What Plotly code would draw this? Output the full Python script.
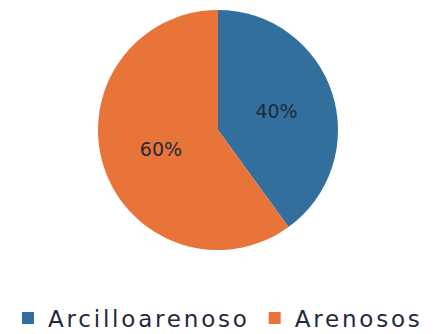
import plotly.graph_objects as go

labels = ["Arcilloarenoso", "Arenosos"]
values = [40, 60]
colors = ["#336F9C", "#E8743A"]

W, H = 438, 334
cx, cy, r = 210, 122, 120
spacing = 2.8      # letter spacing of legend text (px)

legend_labels = [f"<span style='letter-spacing:{spacing}px'>{t}</span>" for t in labels]

fig = go.Figure(go.Pie(
    labels=legend_labels, values=values, sort=False, direction="clockwise", rotation=0,
    marker=dict(colors=colors, line=dict(width=0)),
    textinfo="percent", textposition="inside", insidetextorientation="horizontal",
    textfont=dict(size=19, color="#1F2A3C", family="DejaVu Sans"),
    hoverinfo="percent+value",
    domain=dict(x=[(cx - r) / W, (cx + r) / W], y=[(H - cy - r) / H, (H - cy + r) / H]),
))
fig.update_layout(
    width=W, height=H, margin=dict(l=0, r=0, t=0, b=0, autoexpand=False),
    paper_bgcolor="white", plot_bgcolor="white",
    showlegend=True,
    legend=dict(orientation="h", x=0, xanchor="left", y=0.072, yanchor="middle",
                font=dict(size=23, color="#1F2A3C", family="DejaVu Sans"),
                traceorder="normal"),
)
fig.write_html("out.html")
